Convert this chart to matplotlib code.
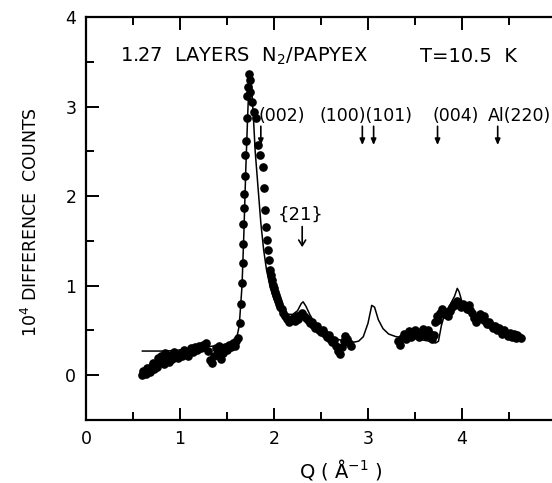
import matplotlib
matplotlib.use('Agg')
import matplotlib.pyplot as plt

plt.rcParams['font.family'] = ['DejaVu Sans']

# measured points, Q (1/A) and 10^4 difference counts
q_low = [0.60, 0.61, 0.62, 0.64, 0.65, 0.66, 0.68, 0.70, 0.71, 0.72, 0.74, 0.76, 0.77, 0.78,
         0.80, 0.82, 0.83, 0.84, 0.86, 0.88, 0.90, 0.92, 0.94, 0.96, 0.98, 1.00, 1.02, 1.04,
         1.06, 1.08, 1.10, 1.12, 1.14, 1.16, 1.18, 1.20, 1.22, 1.24, 1.26, 1.28, 1.30, 1.32,
         1.34, 1.36, 1.38, 1.40, 1.42, 1.44, 1.46, 1.48, 1.50, 1.52, 1.54, 1.56, 1.58, 1.60,
         1.62]
c_low = [0.00, 0.05, 0.03, 0.01, 0.08, 0.06, 0.04, 0.10, 0.14, 0.07, 0.13, 0.09, 0.19, 0.16,
         0.22, 0.19, 0.13, 0.25, 0.21, 0.15, 0.23, 0.18, 0.26, 0.22, 0.19, 0.25, 0.22, 0.28,
         0.24, 0.21, 0.27, 0.30, 0.26, 0.31, 0.28, 0.33, 0.30, 0.34, 0.31, 0.36, 0.27, 0.17,
         0.14, 0.22, 0.30, 0.26, 0.33, 0.18, 0.25, 0.31, 0.28, 0.34, 0.31, 0.36, 0.33, 0.38,
         0.42]

q_peak = [1.64, 1.65, 1.66, 1.665, 1.67, 1.675, 1.68, 1.685, 1.69, 1.695, 1.70, 1.71, 1.715,
          1.72, 1.73, 1.745, 1.75, 1.77, 1.79, 1.81, 1.83, 1.85, 1.88, 1.89, 1.90, 1.91, 1.93,
          1.94, 1.95, 1.96, 1.97, 1.98, 1.99, 2.00, 2.01, 2.02, 2.03, 2.04, 2.05, 2.06, 2.08,
          2.10, 2.12, 2.14, 2.16, 2.18, 2.20, 2.22, 2.24, 2.26, 2.28, 2.30, 2.32, 2.34, 2.36,
          2.38, 2.40, 2.42, 2.44, 2.46, 2.48, 2.50, 2.52, 2.54, 2.56, 2.58, 2.60, 2.62, 2.64,
          2.66, 2.68, 2.70, 2.72, 2.74, 2.76, 2.78, 2.80, 2.82]
c_peak = [0.58, 0.80, 1.03, 1.25, 1.47, 1.69, 1.87, 2.02, 2.23, 2.46, 2.61, 2.87, 3.12,
          3.22, 3.36, 3.30, 3.16, 3.05, 2.94, 2.87, 2.57, 2.46, 2.32, 2.09, 1.84, 1.65, 1.51,
          1.40, 1.29, 1.18, 1.12, 1.06, 1.01, 0.97, 0.93, 0.90, 0.86, 0.83, 0.80, 0.76, 0.74,
          0.70, 0.66, 0.63, 0.60, 0.62, 0.64, 0.61, 0.66, 0.63, 0.67, 0.70, 0.66, 0.64, 0.62,
          0.58, 0.60, 0.56, 0.53, 0.55, 0.51, 0.48, 0.50, 0.46, 0.43, 0.45, 0.41, 0.37, 0.39,
          0.33, 0.27, 0.24, 0.31, 0.38, 0.44, 0.40, 0.36, 0.33]

q_high = [3.32, 3.34, 3.36, 3.38, 3.40, 3.42, 3.44, 3.46, 3.48, 3.50, 3.52, 3.54, 3.56, 3.58,
          3.60, 3.62, 3.64, 3.66, 3.68, 3.70, 3.71, 3.73, 3.75, 3.77, 3.79, 3.81, 3.83, 3.85,
          3.87, 3.89, 3.91, 3.93, 3.95, 3.97, 3.99, 4.01, 4.03, 4.05, 4.07, 4.09, 4.11, 4.13,
          4.15, 4.17, 4.19, 4.21, 4.23, 4.25, 4.27, 4.29, 4.31, 4.33, 4.35, 4.37, 4.39, 4.41,
          4.43, 4.45, 4.47, 4.49, 4.51, 4.53, 4.55, 4.57, 4.59, 4.61, 4.63]
c_high = [0.38, 0.34, 0.42, 0.46, 0.40, 0.45, 0.49, 0.43, 0.47, 0.51, 0.46, 0.43, 0.48, 0.52,
          0.47, 0.44, 0.50, 0.46, 0.41, 0.45, 0.60, 0.66, 0.62, 0.70, 0.74, 0.68, 0.71, 0.66,
          0.72, 0.76, 0.80, 0.78, 0.83, 0.79, 0.76, 0.80, 0.77, 0.74, 0.78, 0.73, 0.69, 0.64,
          0.60, 0.65, 0.68, 0.63, 0.66, 0.61, 0.57, 0.60, 0.56, 0.53, 0.55, 0.50, 0.53, 0.49,
          0.46, 0.50, 0.47, 0.44, 0.47, 0.43, 0.46, 0.42, 0.45, 0.43, 0.42]

# model curve
q_fit = [0.60, 0.85, 1.00, 1.20, 1.40, 1.55, 1.60, 1.63, 1.66, 1.68, 1.70, 1.72, 1.735, 1.745,
         1.76, 1.78, 1.80, 1.83, 1.86, 1.89, 1.92, 1.96, 2.00, 2.05, 2.10, 2.15, 2.20, 2.25,
         2.29, 2.31, 2.34, 2.38, 2.45, 2.55, 2.65, 2.75, 2.85, 2.90, 2.95, 3.00, 3.04, 3.07,
         3.11, 3.16, 3.22, 3.30, 3.40, 3.55, 3.65, 3.72, 3.75, 3.78, 3.82, 3.87, 3.92, 3.95,
         3.97, 4.00, 4.06, 4.14, 4.24, 4.35, 4.47, 4.58, 4.63]
c_fit = [0.27, 0.27, 0.28, 0.31, 0.33, 0.35, 0.40, 0.55, 1.00, 1.60, 2.30, 2.90, 3.30, 3.37,
         3.25, 2.90, 2.50, 2.10, 1.70, 1.40, 1.18, 0.98, 0.85, 0.75, 0.70, 0.68, 0.68, 0.72,
         0.80, 0.82, 0.77, 0.68, 0.55, 0.47, 0.41, 0.38, 0.37, 0.38, 0.43, 0.58, 0.78, 0.76,
         0.62, 0.52, 0.46, 0.43, 0.42, 0.40, 0.38, 0.36, 0.38, 0.55, 0.70, 0.78, 0.88, 0.97,
         0.93, 0.82, 0.74, 0.66, 0.58, 0.51, 0.46, 0.43, 0.42]

# reflection markers
refl_q = [1.86, 2.94, 3.06, 3.74, 4.38]
refl_labels = ['(002)', '(100)(101)', '(004)', 'Al(220)']
refl_label_q = [1.83, 2.48, 3.69, 4.28]

fig = plt.figure(figsize=(5.52, 4.83), dpi=100)
ax = fig.add_axes([0.1558, 0.1304, 0.8514, 0.8344])

ax.plot(q_fit, c_fit, color='black', lw=1.1, zorder=2)
for q, c in [(q_low, c_low), (q_peak, c_peak), (q_high, c_high)]:
    ax.plot(q, c, 'o', color='black', ms=5.2, mec='black', zorder=3)

ax.set_xlim(0, 5)
ax.set_ylim(-0.45, 4)
ax.set_xticks([0, 1, 2, 3, 4, 5])
ax.set_xticklabels(['0', '1', '2', '3', '4', ''])
ax.set_xticks([0.5, 1.5, 2.5, 3.5, 4.5], minor=True)
ax.set_yticks([0, 1, 2, 3, 4])
ax.set_yticks([-0.5, 0.5, 1.5, 2.5, 3.5], minor=True)
ax.tick_params(which='both', direction='in', top=True, right=False, width=1.4,
               labelsize=12.5, pad=7)
ax.tick_params(which='major', length=9)
ax.tick_params(which='minor', length=6)
for s in ['left', 'bottom', 'top']:
    ax.spines[s].set_linewidth(1.6)
ax.spines['right'].set_visible(False)

ax.set_xlabel(r'Q ( $\mathregular{\AA^{-1}}$ )', fontsize=14)
ax.xaxis.set_label_coords(0.543, -0.092)
ax.set_ylabel(r'$\mathregular{10^4}$ DIFFERENCE  COUNTS', fontsize=12.5)
ax.yaxis.set_label_coords(-0.095, 0.491)

ax.text(0.36, 3.56, r'1.27  LAYERS  N$_\mathregular{2}$/PAPYEX', fontsize=14, va='center')
ax.text(3.55, 3.56, 'T=10.5  K', fontsize=14, va='center')

for lab, q in zip(refl_labels, refl_label_q):
    ax.text(q, 2.89, lab, fontsize=12.5, va='center')
for q in refl_q:
    ax.annotate('', xy=(q, 2.57), xytext=(q, 2.78),
                arrowprops=dict(arrowstyle='-|>,head_length=0.35,head_width=0.15',
                                color='black', lw=1.2, shrinkA=0, shrinkB=0))

ax.text(2.28, 1.79, '{21}', fontsize=13, ha='center', va='center')
ax.annotate('', xy=(2.30, 1.43), xytext=(2.30, 1.66),
            arrowprops=dict(arrowstyle='->,head_length=0.4,head_width=0.25',
                            color='black', lw=1.2, shrinkA=0, shrinkB=0))

fig.savefig('out.png', dpi=100)
